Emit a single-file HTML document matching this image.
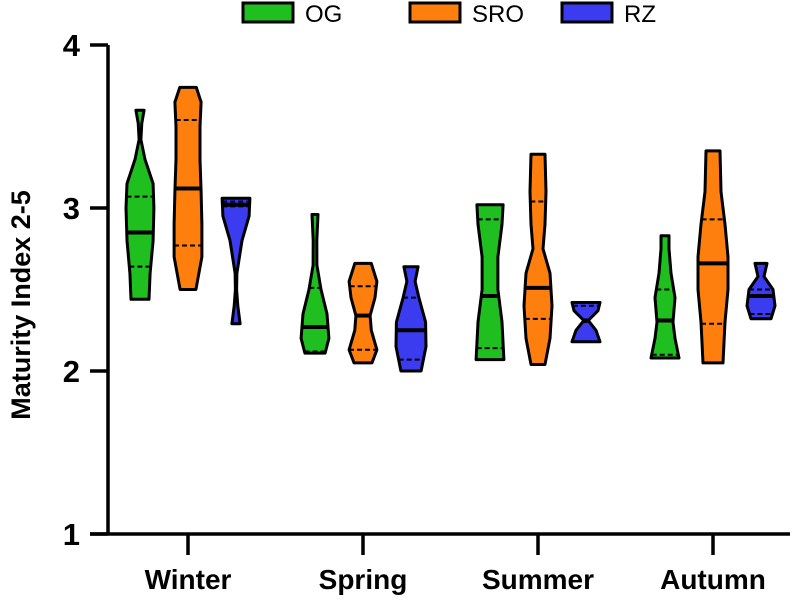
<!DOCTYPE html>
<html><head><meta charset="utf-8"><style>
body{margin:0;background:#fff;}
svg{display:block;font-family:"Liberation Sans",Arial,sans-serif;}
</style></head><body>
<svg id="chart" width="800" height="600" viewBox="0 0 800 600">
<g id="axes"></g>
<g id="violins"></g>
<g id="legend"></g>
<text transform="translate(30,305) rotate(-90)" text-anchor="middle" font-size="27" font-weight="bold">Maturity Index 2-5</text>
</svg>
<script>
const categories = ["Winter","Spring","Summer","Autumn"];
const seriesNames = ["OG","SRO","RZ"];
const seriesColors = ["#1fbf1f","#ff7f0e","#3b3bf0"];
const yTicks = [1,2,3,4];
// per violin stats: [min, max, median, q1, q3] ordered category-major, series-minor
const stats = [
 [2.44,3.60,2.85,2.64,3.07],[2.50,3.74,3.12,2.77,3.54],[2.29,3.06,3.02,3.01,3.04],
 [2.11,2.96,2.27,2.12,2.51],[2.05,2.66,2.34,2.13,2.52],[2.00,2.64,2.25,2.07,2.45],
 [2.07,3.02,2.46,2.14,2.93],[2.04,3.33,2.51,2.32,3.04],[2.18,2.42,2.31,2.30,2.40],
 [2.08,2.83,2.31,2.10,2.50],[2.05,3.35,2.66,2.29,2.93],[2.32,2.66,2.46,2.35,2.50]
];
// density profiles: [value, relative half-width 0..1]
const profiles = [
 [[2.44,0.6],[2.6,0.67],[2.8,0.87],[3.0,0.93],[3.15,0.87],[3.3,0.33],[3.42,0.06],[3.52,0.12],[3.60,0.27]],
 [[2.50,0.53],[2.7,0.93],[2.9,0.93],[3.1,0.87],[3.3,0.8],[3.5,0.8],[3.65,0.87],[3.74,0.55]],
 [[2.29,0.27],[2.4,0.12],[2.5,0.04],[2.6,0.06],[2.8,0.4],[2.95,0.87],[3.06,0.93]],
 [[2.11,0.67],[2.2,0.93],[2.35,0.8],[2.5,0.4],[2.65,0.13],[2.8,0.12],[2.96,0.2]],
 [[2.05,0.6],[2.13,0.93],[2.25,0.55],[2.34,0.47],[2.45,0.8],[2.55,0.93],[2.66,0.55]],
 [[2.00,0.67],[2.15,1.0],[2.3,0.97],[2.45,0.53],[2.55,0.27],[2.64,0.47]],
 [[2.07,0.93],[2.3,0.8],[2.5,0.53],[2.7,0.53],[2.9,0.8],[3.02,0.87]],
 [[2.04,0.47],[2.2,0.8],[2.4,0.93],[2.6,0.8],[2.75,0.33],[2.9,0.47],[3.1,0.53],[3.33,0.47]],
 [[2.18,0.93],[2.25,0.67],[2.31,0.15],[2.37,0.8],[2.42,0.93]],
 [[2.08,0.93],[2.2,0.67],[2.3,0.53],[2.45,0.67],[2.6,0.4],[2.75,0.27],[2.83,0.27]],
 [[2.05,0.67],[2.3,0.8],[2.5,1.0],[2.7,1.0],[2.9,0.8],[3.1,0.53],[3.35,0.47]],
 [[2.32,0.67],[2.4,0.93],[2.5,0.8],[2.58,0.2],[2.66,0.4]]
];
const NS="http://www.w3.org/2000/svg";
const X0=108,Y0=534,YTOP=45,CAT0=188,CATW=175,OFF=48,MAXW=15;
function yScale(v){return Y0-(v-1)/(4-1)*(Y0-YTOP);}
function xScale(ci,si){return CAT0+ci*CATW+(si-1)*OFF;}
function mk(tag,attrs,parent){const e=document.createElementNS(NS,tag);for(const k in attrs)e.setAttribute(k,attrs[k]);parent.appendChild(e);return e;}
const axes=document.getElementById('axes');
let a=mk('line',{x1:X0,y1:YTOP,x2:X0,y2:Y0,stroke:'#000','stroke-width':3.5},axes);

a=mk('line',{x1:90,y1:Y0,x2:790,y2:Y0,stroke:'#000','stroke-width':3.5},axes);

yTicks.forEach(t=>{const y=yScale(t);
 const l=mk('line',{x1:90,y1:y,x2:X0,y2:y,stroke:'#000','stroke-width':3.5},axes);
 
 const tx=mk('text',{x:80,y:y+11,'text-anchor':'end','font-size':31,'font-weight':'bold'},axes);tx.textContent=t;
 });
categories.forEach((c,i)=>{const x=xScale(i,1);
 const l=mk('line',{x1:x,y1:Y0,x2:x,y2:555,stroke:'#000','stroke-width':3.5},axes);
 
 const tx=mk('text',{x:x,y:589,'text-anchor':'middle','font-size':28,'font-weight':'bold'},axes);tx.textContent=c;
 });
const vg=document.getElementById('violins');
function widthAt(p,v){for(let i=0;i<p.length-1;i++){if(v>=p[i][0]&&v<=p[i+1][0]){const t=(v-p[i][0])/(p[i+1][0]-p[i][0]);return p[i][1]+t*(p[i+1][1]-p[i][1]);}}return p[p.length-1][1];}
stats.forEach((s,k)=>{const ci=Math.floor(k/3),si=k%3,cx=xScale(ci,si),p=profiles[k];
 const g=mk('g',{},vg);
 
 
 const right=p.map(q=>[cx+q[1]*MAXW,yScale(q[0])]);
 const left=p.slice().reverse().map(q=>[cx-q[1]*MAXW,yScale(q[0])]);
 const pts=right.concat(left).map(q=>q[0].toFixed(1)+','+q[1].toFixed(1)).join(' ');
 mk('polygon',{points:pts,fill:seriesColors[si],stroke:'#000','stroke-width':3,'stroke-linejoin':'round'},g);
 [[s[2],false],[s[3],true],[s[4],true]].forEach(([v,dash])=>{const w=widthAt(p,v)*MAXW,y=yScale(v);
  const ln=mk('line',{x1:cx-w,y1:y,x2:cx+w,y2:y,stroke:'#000','stroke-width':dash?2:4},g);
  if(dash)ln.setAttribute('stroke-dasharray','5,3');
  });
});
const lg=document.getElementById('legend');
const lx=[243,410,562];
seriesNames.forEach((n,i)=>{const r=mk('rect',{x:lx[i],y:3,width:50,height:19,fill:seriesColors[i],stroke:'#000','stroke-width':3},lg);
 
 const t=mk('text',{x:lx[i]+62,y:22,'font-size':24},lg);t.textContent=n;
 });
</script>
</body></html>
